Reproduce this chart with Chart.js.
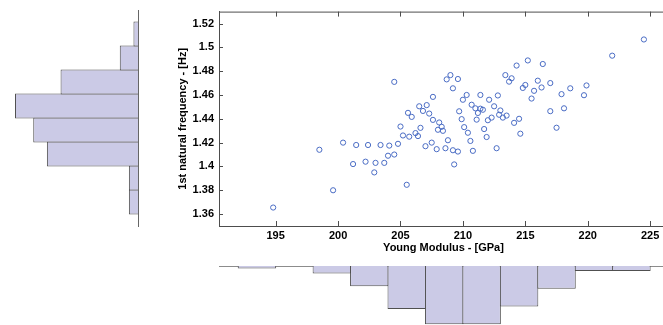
<!doctype html>
<html lang="en">
<head>
    <meta charset="UTF-8">
    <title>Young Modulus vs 1st natural frequency</title>
    <script src="https://cdn.jsdelivr.net/npm/chart.js"></script>
    <style>
        html, body {
            margin: 0;
            padding: 0;
            background: #fff;
            overflow: hidden;
        }
        body {
            position: relative;
            width: 663px;
            height: 325px;
        }
        canvas {
            position: absolute;
        }
        #scatterChart { left: 150px; top: 0; }
        #leftHist { left: 0; top: 0; }
        #bottomHist { left: 150px; top: 255px; }
    </style>
</head>
<body>
    <canvas id="leftHist" width="140" height="240"></canvas>
    <canvas id="scatterChart" width="530" height="262"></canvas>
    <canvas id="bottomHist" width="530" height="70"></canvas>

    <script>
        // scatter samples
        const modulus = [
            194.8, 198.5, 199.6, 200.4, 201.2, 201.45, 202.2, 202.4, 202.9, 203.0,
            203.4, 203.7, 204.0, 204.1, 204.5, 204.8, 205.0, 205.2, 205.5, 205.7,
            206.2, 206.4, 204.5, 205.6, 205.9, 206.5, 224.5, 221.96, 219.9, 219.7,
            218.6, 217.9, 218.1, 217.0, 217.5, 217.0, 216.4, 216.3, 216.0, 215.7,
            215.5, 215.2, 215.0, 214.8, 214.3, 213.9, 213.7, 213.4, 214.5, 214.1,
            213.5, 213.2, 213.0, 212.9, 212.8, 212.5, 212.1, 212.3, 212.0, 211.7,
            211.6, 211.4, 211.4, 211.2, 211.1, 211.0, 210.7, 210.3, 210.0, 209.7,
            209.9, 210.1, 209.6, 209.2, 209.0, 208.7, 207.6, 207.1, 206.8, 207.3,
            207.6, 208.1, 208.3, 208.0, 206.6, 207.0, 207.5, 207.9, 208.4, 208.6,
            208.8, 209.2, 209.6, 209.3, 210.4, 210.6, 210.8, 211.9, 212.7, 214.6
        ];
        const frequency = [
            1.3655, 1.414, 1.380, 1.420, 1.402, 1.418, 1.404, 1.418, 1.395, 1.403,
            1.418, 1.403, 1.409, 1.4175, 1.410, 1.419, 1.4335, 1.426, 1.3846, 1.425,
            1.428, 1.4255, 1.471, 1.445, 1.4416, 1.4505, 1.5066, 1.493, 1.468, 1.4598,
            1.4656, 1.4607, 1.4488, 1.4464, 1.4325, 1.470, 1.486, 1.4663, 1.472, 1.4635,
            1.457, 1.489, 1.4684, 1.4659, 1.4847, 1.474, 1.4712, 1.4767, 1.440, 1.4366,
            1.4427, 1.441, 1.447, 1.4434, 1.4596, 1.4505, 1.456, 1.441, 1.4388, 1.4314,
            1.4476, 1.4485, 1.460, 1.4449, 1.4393, 1.4488, 1.4518, 1.460, 1.456, 1.4463,
            1.4397, 1.433, 1.4734, 1.4656, 1.4767, 1.4731, 1.4584, 1.4515, 1.4466, 1.4444,
            1.4391, 1.4369, 1.4333, 1.4308, 1.4324, 1.417, 1.420, 1.4145, 1.4299, 1.4153,
            1.422, 1.4136, 1.4125, 1.4017, 1.4283, 1.4214, 1.4131, 1.4247, 1.4153, 1.4275
        ];

        // marginal histograms
        const freqBins = [1.37, 1.39, 1.41, 1.43, 1.45, 1.47, 1.49, 1.51];
        const freqCounts = [2, 2, 20, 23, 27, 17, 4, 1];
        const modBins = [193.5, 196.5, 199.5, 202.5, 205.5, 208.5, 211.5, 214.5, 217.5, 220.5, 223.5];
        const modCounts = [1, 0, 3, 8, 17, 23, 23, 16, 9, 2, 2];

        // ticks
        const modTicks = [195, 200, 205, 210, 215, 220, 225];
        const freqTicks = [1.36, 1.38, 1.4, 1.42, 1.44, 1.46, 1.48, 1.5, 1.52];

        const xRange = [190.46, 226.43];
        const yRange = [1.35, 1.53];

        const axisColor = '#4d4d4d';
        const barFill = '#cbcae6';
        const barEdge = '#505050';
        const labelFont = { family: 'Arial, "Liberation Sans", sans-serif', size: 11, weight: 'bold' };

        // MATLAB style: box on top, ticks pointing inward
        const innerTicks = {
            id: 'innerTicks',
            afterDraw(chart) {
                const { ctx, chartArea: a, scales: { x, y } } = chart;
                ctx.save();
                ctx.strokeStyle = axisColor;
                ctx.lineWidth = 1;
                ctx.beginPath();
                ctx.moveTo(a.left, a.top + 0.5);
                ctx.lineTo(a.right, a.top + 0.5);
                x.ticks.forEach(t => {
                    const px = Math.round(x.getPixelForValue(t.value)) + 0.5;
                    ctx.moveTo(px, a.top);
                    ctx.lineTo(px, a.top + 5);
                    ctx.moveTo(px, a.bottom);
                    ctx.lineTo(px, a.bottom - 5);
                });
                y.ticks.forEach(t => {
                    const py = Math.round(y.getPixelForValue(t.value)) + 0.5;
                    ctx.moveTo(a.left, py);
                    ctx.lineTo(a.left + 4, py);
                });
                ctx.stroke();
                ctx.restore();
            }
        };

        new Chart(document.getElementById('scatterChart'), {
            type: 'scatter',
            data: {
                datasets: [{
                    data: modulus.map((m, i) => ({ x: m, y: frequency[i] })),
                    pointStyle: 'circle',
                    radius: 2.6,
                    borderWidth: 1,
                    borderColor: '#4a6cc4',
                    backgroundColor: 'rgba(0,0,0,0)'
                }]
            },
            options: {
                responsive: false,
                animation: false,
                layout: { padding: { top: 10, right: 12, left: 0, bottom: 0 } },
                plugins: { legend: { display: false }, tooltip: { enabled: false } },
                scales: {
                    x: {
                        type: 'linear',
                        min: xRange[0],
                        max: xRange[1],
                        afterBuildTicks: s => { s.ticks = modTicks.map(v => ({ value: v })); },
                        afterFit: s => { s.height = 36; },
                        grid: { drawOnChartArea: false, drawTicks: false },
                        border: { color: axisColor },
                        ticks: { color: '#000', font: labelFont, padding: 3, maxRotation: 0 },
                        title: {
                            display: true,
                            text: 'Young Modulus - [GPa]',
                            color: '#000',
                            font: labelFont,
                            padding: { top: 0, bottom: 7.7 }
                        }
                    },
                    y: {
                        type: 'linear',
                        min: yRange[0],
                        max: yRange[1],
                        afterBuildTicks: s => { s.ticks = freqTicks.map(v => ({ value: v })); },
                        afterFit: s => { s.width = 69; },
                        grid: { drawOnChartArea: false, drawTicks: false },
                        border: { color: axisColor },
                        ticks: {
                            color: '#000',
                            font: labelFont,
                            padding: 5,
                            callback: v => String(Number(v.toFixed(2)))
                        },
                        title: {
                            display: true,
                            text: '1st natural frequency - [Hz]',
                            color: '#000',
                            font: labelFont,
                            padding: { top: 26.4, bottom: 0 }
                        }
                    }
                }
            },
            plugins: [innerTicks]
        });

        // histogram of frequency, bars growing leftward
        new Chart(document.getElementById('leftHist'), {
            type: 'bar',
            data: {
                datasets: [{
                    data: freqBins.map((b, i) => ({ x: freqCounts[i], y: b })),
                    backgroundColor: barFill,
                    borderColor: barEdge,
                    borderWidth: 1,
                    barPercentage: 1.04,
                    categoryPercentage: 1
                }]
            },
            options: {
                indexAxis: 'y',
                responsive: false,
                animation: false,
                layout: { padding: { top: 10, left: 10, right: 0, bottom: 14 } },
                plugins: { legend: { display: false }, tooltip: { enabled: false } },
                scales: {
                    x: { type: 'linear', reverse: true, min: 0, max: 28.1, display: false },
                    y: {
                        type: 'linear',
                        position: 'right',
                        offset: false,
                        min: yRange[0],
                        max: yRange[1],
                        afterFit: s => { s.width = 2; },
                        ticks: { display: false },
                        grid: { display: false, offset: false, drawTicks: false },
                        border: { color: '#666' }
                    }
                }
            }
        });

        // histogram of modulus, bars hanging downward
        new Chart(document.getElementById('bottomHist'), {
            type: 'bar',
            data: {
                datasets: [{
                    data: modBins.map((b, i) => ({ x: b, y: modCounts[i] })),
                    backgroundColor: barFill,
                    borderColor: barEdge,
                    borderWidth: 1,
                    barPercentage: 1.027,
                    categoryPercentage: 1
                }]
            },
            options: {
                responsive: false,
                animation: false,
                layout: { padding: { top: 10, left: 69, right: 12, bottom: 0 } },
                plugins: { legend: { display: false }, tooltip: { enabled: false } },
                scales: {
                    x: {
                        type: 'linear',
                        position: 'top',
                        offset: false,
                        min: xRange[0],
                        max: xRange[1],
                        afterFit: s => { s.height = 1; },
                        ticks: { display: false },
                        grid: { display: false, offset: false, drawTicks: false },
                        border: { color: '#8c8c8c' }
                    },
                    y: { type: 'linear', reverse: true, min: 0, max: 23.3, display: false }
                }
            }
        });
    </script>
</body>
</html>
